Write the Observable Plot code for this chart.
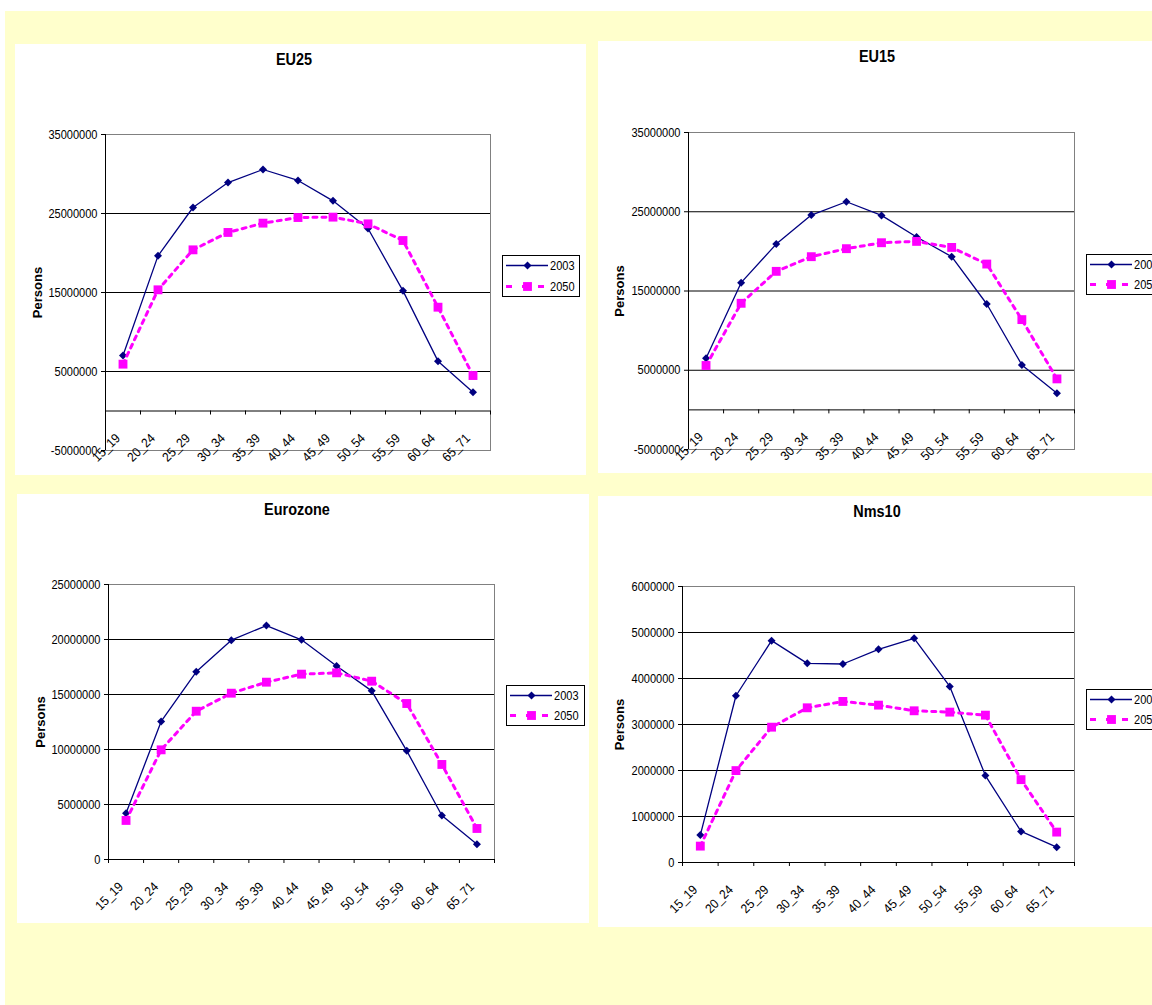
<!DOCTYPE html>
<html>
<head>
<meta charset="utf-8">
<script src="https://cdn.jsdelivr.net/npm/d3@7"></script>
<script src="https://cdn.jsdelivr.net/npm/@observablehq/plot@0.6"></script>
<style>
  html, body { margin: 0; padding: 0; background: #fff; overflow: hidden; width: 1152px; height: 1005px; }
  #sheet { position: absolute; left: 5px; top: 11px; width: 1147px; height: 994px; background: #ffffcc; }
  .panel { position: absolute; background: #fff; overflow: visible; }
  .panel svg { display: block; }
  #overlay { position: absolute; left: 0; top: 0; pointer-events: none; }
</style>
</head>
<body>
<div id="sheet"></div>
<script>
// Working-age population by five-year age group, 2003 vs 2050 projection
const ageGroups = ["15_19", "20_24", "25_29", "30_34", "35_39", "40_44", "45_49", "50_54", "55_59", "60_64", "65_71"];

const eu25_2003 = [7030000, 19640000, 25760000, 28920000, 30570000, 29180000, 26600000, 23100000, 15210000, 6310000, 2380000];
const eu25_2050 = [5930000, 15340000, 20400000, 22600000, 23780000, 24490000, 24540000, 23690000, 21580000, 13140000, 4490000];

const eu15_2003 = [6510000, 16050000, 20920000, 24580000, 26260000, 24540000, 21810000, 19330000, 13360000, 5670000, 2100000];
const eu15_2050 = [5600000, 13450000, 17480000, 19330000, 20340000, 21090000, 21260000, 20500000, 18400000, 11390000, 3910000];

const eurozone_2003 = [4210000, 12550000, 17060000, 19940000, 21270000, 19970000, 17600000, 15330000, 9880000, 4000000, 1390000];
const eurozone_2050 = [3550000, 9970000, 13480000, 15120000, 16120000, 16850000, 16970000, 16210000, 14180000, 8640000, 2820000];

const nms10_2003 = [596000, 3625000, 4823000, 4329000, 4315000, 4634000, 4874000, 3828000, 1889000, 676000, 334000];
const nms10_2050 = [356000, 1998000, 2942000, 3363000, 3501000, 3421000, 3298000, 3269000, 3203000, 1801000, 661000];

const ticksEU = [-5000000, 5000000, 15000000, 25000000, 35000000];
const ticksEurozone = [0, 5000000, 10000000, 15000000, 20000000, 25000000];
const ticksNms10 = [0, 1000000, 2000000, 3000000, 4000000, 5000000, 6000000];

const seriesNames = ["2003", "2050"];
const yAxisTitle = "Persons";

const FONT = '"Liberation Sans", Arial, sans-serif';
const SQUEEZE = 0.85;            // horizontal squeeze applied to labels for a condensed look
const SQUEEZE_SLANTED = 0.92;    // milder squeeze along the slanted category labels
const NAVY = "#000080";
const MAGENTA = "#ff00ff";

// Page layout of each chart block (pixels)
const panels = [
  {title: "EU25", s2003: eu25_2003, s2050: eu25_2050, ticks: ticksEU,
   box: {x: 15, y: 44, w: 571, h: 431}, plot: {l: 105, r: 490, t: 134, b: 450},
   titleAt: [294, 65], personsX: 37, legendAt: [502, 255, 78, 42]},
  {title: "EU15", s2003: eu15_2003, s2050: eu15_2050, ticks: ticksEU,
   box: {x: 598, y: 41, w: 570, h: 432}, plot: {l: 688, r: 1074, t: 132, b: 449},
   titleAt: [877, 62], personsX: 619, legendAt: [1086, 254, 78, 41]},
  {title: "Eurozone", s2003: eurozone_2003, s2050: eurozone_2050, ticks: ticksEurozone,
   box: {x: 17, y: 494, w: 572, h: 429}, plot: {l: 108, r: 494, t: 584, b: 859},
   titleAt: [297, 515], personsX: 40, legendAt: [506, 685, 79, 41]},
  {title: "Nms10", s2003: nms10_2003, s2050: nms10_2050, ticks: ticksNms10,
   box: {x: 598, y: 496, w: 570, h: 431}, plot: {l: 682, r: 1074, t: 586, b: 862},
   titleAt: [877, 517], personsX: 619, legendAt: [1086, 689, 78, 41]}
];

const overlay = d3.select("body").append("svg")
  .attr("id", "overlay").attr("width", 1152).attr("height", 1005);

function drawPanel(p) {
  const n = ageGroups.length;
  const rows = ageGroups.flatMap((g, i) => [
    {group: g, pos: i + 0.5, year: seriesNames[0], value: p.s2003[i]},
    {group: g, pos: i + 0.5, year: seriesNames[1], value: p.s2050[i]}
  ]);
  const r2003 = rows.filter(d => d.year === seriesNames[0]);
  const r2050 = rows.filter(d => d.year === seriesNames[1]);
  const yDomain = [p.ticks[0], p.ticks[p.ticks.length - 1]];
  const grid = p.ticks.filter(t => t !== yDomain[0] && t !== yDomain[1]);

  const chart = Plot.plot({
    width: p.box.w,
    height: p.box.h,
    marginLeft: p.plot.l - p.box.x,
    marginRight: p.box.x + p.box.w - p.plot.r,
    marginTop: p.plot.t - p.box.y,
    marginBottom: p.box.y + p.box.h - p.plot.b,
    x: {type: "linear", domain: [0, n], axis: null},
    y: {type: "linear", domain: yDomain, axis: null},
    style: {fontFamily: FONT, fontSize: "13px", color: "#000", background: "transparent", overflow: "visible"},
    marks: [
      Plot.ruleY(grid, {stroke: "#000"}),
      Plot.frame({stroke: "#808080"}),
      Plot.ruleY([0], {stroke: "#000"}),
      Plot.ruleX([0], {stroke: "#000"}),
      // category tick marks between age groups, hanging below the zero line
      Plot.ruleX(d3.range(n + 1), {x: d => d, y1: () => 0, y2: () => 0, insetBottom: -4, stroke: "#000"}),
      Plot.axisY(p.ticks, {tickSize: 4, tickPadding: 4, tickFormat: d => String(d), label: null,
        className: "squeeze"}),
      Plot.text(ageGroups, {x: (d, i) => i + 0.5, y: () => 0, text: d => d, rotate: -45,
        textAnchor: "end", dx: -5, dy: 25, fill: "#000", className: "slanted"}),
      Plot.text([yAxisTitle], {frameAnchor: "left", text: d => d, dx: p.personsX - p.plot.l, rotate: -90,
        textAnchor: "middle", lineAnchor: "middle",
        fontWeight: "bold", fontSize: 13, fill: "#000"}),
      Plot.line(r2003, {x: "pos", y: "value", stroke: NAVY, strokeWidth: 1.3}),
      Plot.dot(r2003, {x: "pos", y: "value", symbol: "diamond2", r: 3.6, fill: NAVY, stroke: null}),
      Plot.line(r2050, {x: "pos", y: "value", stroke: MAGENTA, strokeWidth: 3, strokeDasharray: "4,5"}),
      Plot.dot(r2050, {x: "pos", y: "value", symbol: "square", r: 5, fill: MAGENTA, stroke: null})
    ]
  });

  // condense labels around their own anchor points
  const squeeze = (sel, k) => d3.select(chart).selectAll(sel).each(function() {
    const t = this.getAttribute("transform");
    if (t) this.setAttribute("transform", `${t} scale(${k},1)`);
  });
  squeeze("g.squeeze text", SQUEEZE);
  squeeze("g.slanted text", SQUEEZE_SLANTED);

  const div = document.createElement("div");
  div.className = "panel";
  div.style.left = p.box.x + "px";
  div.style.top = p.box.y + "px";
  div.style.width = p.box.w + "px";
  div.style.height = p.box.h + "px";
  div.appendChild(chart);
  document.body.insertBefore(div, document.getElementById("overlay"));

  // chart title
  overlay.append("text")
    .attr("transform", `translate(${p.titleAt[0]},${p.titleAt[1]}) scale(${SQUEEZE},1)`)
    .attr("text-anchor", "middle")
    .style("font-family", FONT).style("font-weight", "bold").style("font-size", "17px")
    .attr("fill", "#000")
    .text(p.title);

  // series key
  const [lx, ly, lw, lh] = p.legendAt;
  const g = overlay.append("g").attr("transform", `translate(${lx},${ly})`);
  g.append("rect").attr("x", 0.5).attr("y", 0.5).attr("width", lw - 1).attr("height", lh - 1)
    .attr("fill", "#fff").attr("stroke", "#000");
  const keys = [
    {name: seriesNames[0], color: NAVY, width: 1.3, dash: null, symbol: d3.symbolDiamond2, size: Math.PI * 3.6 * 3.6},
    {name: seriesNames[1], color: MAGENTA, width: 3, dash: "6,10", symbol: d3.symbolSquare, size: Math.PI * 25}
  ];
  keys.forEach((k, i) => {
    const yy = i === 0 ? 10.5 : lh - 10.5;
    g.append("line").attr("x1", 4).attr("x2", 46).attr("y1", yy).attr("y2", yy)
      .attr("stroke", k.color).attr("stroke-width", k.width)
      .attr("stroke-dasharray", k.dash);
    g.append("path").attr("d", d3.symbol(k.symbol, k.size)())
      .attr("transform", `translate(25.5,${yy})`).attr("fill", k.color);
    g.append("text").attr("transform", `translate(48,${yy}) scale(${SQUEEZE},1)`).attr("dy", "0.35em")
      .style("font-family", FONT).style("font-size", "13px").attr("fill", "#000")
      .text(k.name);
  });
}

panels.forEach(drawPanel);
</script>
</body>
</html>
